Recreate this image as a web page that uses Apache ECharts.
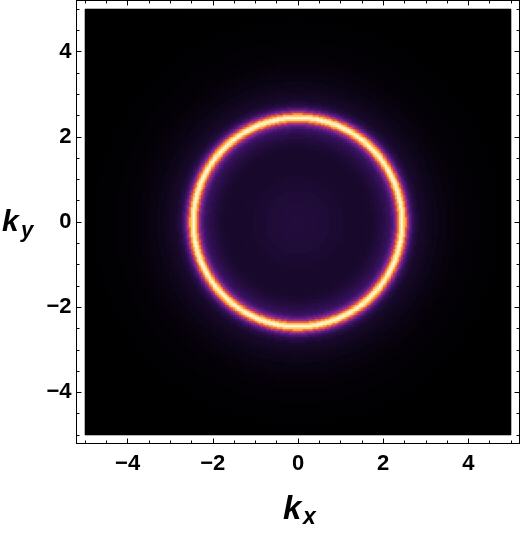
<!DOCTYPE html>
<html>
<head>
<meta charset="utf-8">
<script src="https://cdn.jsdelivr.net/npm/echarts@6/dist/echarts.min.js"></script>
<style>
  html, body { margin: 0; background: #fff; }
  #chart { width: 523px; height: 534px; }
</style>
</head>
<body>
<div id="chart"></div>
<script>
// radial profile of the ring (|k| -> intensity 0..1)
const radii = [0, 0.3, 0.6, 0.9, 1.2, 1.5, 1.7, 1.8, 1.9, 2.0, 2.05, 2.1,
  2.15, 2.175, 2.2, 2.225, 2.25, 2.275, 2.3, 2.325, 2.35, 2.375, 2.4, 2.425, 2.45,
  2.475, 2.5, 2.525, 2.55, 2.575, 2.6, 2.625, 2.65, 2.675, 2.7, 2.725, 2.75,
  2.8, 2.85, 2.9, 3.0, 3.1, 3.2, 3.4, 3.6, 3.8, 4.0, 4.5, 5.0, 6.0, 7.5]
const intensity = [0.13, 0.128, 0.12, 0.11, 0.1, 0.095, 0.1, 0.11, 0.125, 0.145, 0.16, 0.175,
  0.19, 0.21, 0.24, 0.27, 0.31, 0.36, 0.42, 0.5, 0.62, 0.75, 0.88, 0.96, 1.0,
  0.96, 0.88, 0.75, 0.61, 0.49, 0.4, 0.33, 0.27, 0.23, 0.19, 0.16, 0.14,
  0.12, 0.1, 0.09, 0.075, 0.065, 0.055, 0.04, 0.03, 0.02, 0.015, 0.008, 0.004, 0, 0]

const majorTicks = [-4, -2, 0, 2, 4]
const minorTicks = [-5, -4.5, -3.5, -3, -2.5, -1.5, -1, -0.5, 0.5, 1, 1.5, 2.5, 3, 3.5, 4.5, 5]
const colorStops = ['#000000', '#1a0a2e', '#3a1260', '#5a1d85', '#8a2a8a', '#c03a6a',
  '#e85a40', '#f8862a', '#ffb038', '#ffd978', '#fff8e0']

const plotMin = -5
const plotMax = 5
const framePad = 0.2
const cellCount = 213

const chart = echarts.init(document.getElementById('chart'))

// density grid: each cell takes the nearest radius from the profile
const step = (plotMax - plotMin) / cellCount
const cells = []
for (let i = 0; i < cellCount; i++) cells.push((plotMin + (i + 0.5) * step).toFixed(3))
const heat = []
for (let i = 0; i < cellCount; i++) {
  for (let j = 0; j < cellCount; j++) {
    const r = Math.hypot(+cells[i], +cells[j])
    let best = 0
    for (let k = 1; k < radii.length; k++) {
      if (Math.abs(radii[k] - r) < Math.abs(radii[best] - r)) best = k
    }
    heat.push([i, j, intensity[best]])
  }
}

// image box in pixels, frame box is padded around it
const imgLeft = 85, imgTop = 9, imgSize = 426
const pxPerUnit = imgSize / (plotMax - plotMin)
const pad = framePad * pxPerUnit

const fmt = v => (v < 0 ? '\u2212' + Math.abs(v) : String(v))
const labelStyle = { color: '#000', fontSize: 22, fontWeight: 'bold', fontFamily: 'Liberation Sans, Arial, sans-serif' }
const titleFont = { fontWeight: 'bold', fontStyle: 'italic', fontFamily: 'Liberation Sans', fill: '#000', align: 'left', verticalAlign: 'top' }

const frameAxis = (position, ticks, len, withLabel, margin) => ({
  gridIndex: 0,
  type: 'value',
  position,
  min: plotMin - framePad,
  max: plotMax + framePad,
  axisLine: { show: true, onZero: false, lineStyle: { color: '#000', width: 1 } },
  axisTick: { show: true, inside: true, length: len, customValues: ticks, lineStyle: { color: '#000', width: 1 } },
  axisLabel: withLabel
    ? { show: true, customValues: majorTicks, formatter: fmt, margin, ...labelStyle }
    : { show: false },
  splitLine: { show: false }
})

const option = {
  animation: false,
  backgroundColor: '#fff',
  grid: [
    { left: imgLeft - pad, top: imgTop - pad, width: imgSize + 2 * pad, height: imgSize + 2 * pad },
    { left: imgLeft, top: imgTop, width: imgSize, height: imgSize }
  ],
  xAxis: [
    frameAxis('bottom', majorTicks, 5, true, 9),
    frameAxis('bottom', minorTicks, 3, false),
    frameAxis('top', majorTicks, 5, false),
    frameAxis('top', minorTicks, 3, false),
    { gridIndex: 1, type: 'category', data: cells, show: false }
  ],
  yAxis: [
    frameAxis('left', majorTicks, 5, true, 5),
    frameAxis('left', minorTicks, 3, false),
    frameAxis('right', majorTicks, 5, false),
    frameAxis('right', minorTicks, 3, false),
    { gridIndex: 1, type: 'category', data: cells, show: false }
  ],
  visualMap: {
    show: false,
    type: 'continuous',
    min: 0,
    max: 1,
    dimension: 2,
    seriesIndex: 0,
    inRange: { color: colorStops }
  },
  series: [{
    type: 'heatmap',
    xAxisIndex: 4,
    yAxisIndex: 4,
    data: heat,
    progressive: 0,
    itemStyle: { borderWidth: 0 },
    emphasis: { disabled: true }
  }],
  graphic: [
    { type: 'text', x: 283, y: 493, style: { text: 'k', fontSize: 33, ...titleFont } },
    { type: 'text', x: 303, y: 506, style: { text: 'x', fontSize: 23, ...titleFont } },
    { type: 'text', x: 2, y: 208, style: { text: 'k', fontSize: 30, ...titleFont } },
    { type: 'text', x: 21, y: 220, style: { text: 'y', fontSize: 22, ...titleFont } }
  ]
}

chart.setOption(option)
window.addEventListener('resize', () => chart.resize())
</script>
</body>
</html>
